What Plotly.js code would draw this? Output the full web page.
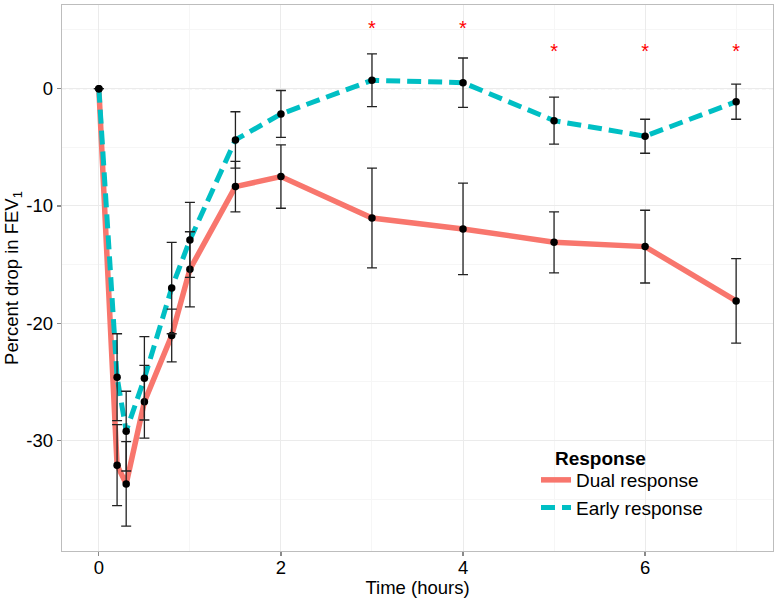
<!DOCTYPE html>
<html>
<head>
<meta charset="utf-8">
<script src="https://cdn.plot.ly/plotly-3.0.1.min.js"></script>
<style>html,body{margin:0;padding:0;background:#fff;}#chart{width:778px;height:600px;}</style>
</head>
<body>
<div id="chart"></div>
<script>
// Data
var times = [0, 0.2, 0.3, 0.5, 0.8, 1, 1.5, 2, 3, 4, 5, 6, 7];
var dualMean = [0, -32.1, -33.7, -26.7, -21.05, -15.4, -8.35, -7.5, -11.03, -11.96, -13.1, -13.47, -18.1];
var dualErr  = [0, 3.45, 3.6, 3.1, 2.25, 3.2, 2.15, 2.7, 4.25, 3.9, 2.6, 3.1, 3.6];
var earlyMean = [0, -24.6, -29.2, -24.7, -17.0, -12.9, -4.37, -2.16, 0.71, 0.51, -2.73, -4.06, -1.11];
var earlyErr  = [0, 3.7, 3.4, 3.55, 3.9, 3.2, 2.4, 2.0, 2.25, 2.1, 2.0, 1.45, 1.5];
var starTimes = [3, 4, 5, 6, 7];
var starY = [5, 5, 3, 3, 3];
var seriesNames = ['Dual response', 'Early response'];
var legendTitle = 'Response';
var xTicks = [0, 2, 4, 6];
var yTicks = [0, -10, -20, -30];

var FONT = 'Liberation Sans, Arial, Helvetica, sans-serif';
var DUAL = '#F8766D', EARLY = '#00BFC4';

var traces = [
  {x: times, y: dualMean, mode: 'lines', name: seriesNames[0],
   line: {color: DUAL, width: 5.5}, hoverinfo: 'skip'},
  {x: times, y: earlyMean, mode: 'lines', name: seriesNames[1],
   line: {color: EARLY, width: 5, dash: '14px,7px'}, hoverinfo: 'skip'},
  {x: times, y: dualMean, mode: 'markers', showlegend: false,
   marker: {color: '#000', size: 7.5},
   error_y: {type: 'data', array: dualErr, visible: true, color: '#222', thickness: 1.3, width: 5}},
  {x: times, y: earlyMean, mode: 'markers', showlegend: false,
   marker: {color: '#000', size: 7.5},
   error_y: {type: 'data', array: earlyErr, visible: true, color: '#222', thickness: 1.3, width: 5}},
  {x: starTimes, y: starY, mode: 'text', text: starTimes.map(function(){return '*';}),
   textposition: 'middle center', textfont: {color: '#FF0000', size: 20, family: FONT},
   showlegend: false, hoverinfo: 'skip'}
];

var layout = {
  width: 778, height: 600,
  margin: {l: 62, r: 5, t: 5, b: 49},
  paper_bgcolor: '#fff', plot_bgcolor: '#fff',
  font: {family: FONT, color: '#000', size: 18.5},
  showlegend: true,
  xaxis: {
    range: [-0.405, 7.405], tickvals: xTicks, ticktext: xTicks.map(String),
    showgrid: true, gridcolor: '#ebebeb', gridwidth: 1,
    minor: {dtick: 1, tick0: 0, showgrid: true, gridcolor: '#f6f6f6', gridwidth: 1},
    zeroline: false, showline: true, mirror: true, linecolor: '#bdbdbd', linewidth: 1.3,
    ticks: 'outside', ticklen: 4, tickcolor: '#8a8a8a', tickwidth: 1.2,
    ticklabelstandoff: -5,
    tickfont: {size: 18.5, color: '#000', family: FONT},
    title: {text: 'Time (hours)', font: {size: 18.5, color: '#000', family: FONT}, standoff: 3},
    automargin: false
  },
  yaxis: {
    range: [-39.42, 7.13], tickvals: yTicks, ticktext: yTicks.map(String),
    showgrid: true, gridcolor: '#ebebeb', gridwidth: 1,
    minor: {dtick: 5, tick0: 0, showgrid: true, gridcolor: '#f6f6f6', gridwidth: 1},
    zeroline: false, showline: true, mirror: true, linecolor: '#bdbdbd', linewidth: 1.3,
    ticks: 'outside', ticklen: 4, tickcolor: '#8a8a8a', tickwidth: 1.2,
    tickfont: {size: 18.5, color: '#000', family: FONT},
    title: {text: 'Percent drop in FEV<sub>1</sub>', font: {size: 18.5, color: '#000', family: FONT}, standoff: 2},
    automargin: false
  },
  shapes: [
    {type: 'line', xref: 'paper', yref: 'y', x0: 0, x1: 1, y0: 0, y1: 0,
     line: {color: '#bbbbbb', width: 1, dash: '4px,3px'}, layer: 'below'}
  ],
  annotations: [
    {xref: 'paper', yref: 'paper', x: (553 - 62) / 711, y: 1 - (446 - 5) / 546,
     xanchor: 'left', yanchor: 'top', showarrow: false,
     text: '<b>' + legendTitle + '</b>', font: {size: 19, color: '#000', family: FONT}}
  ],
  legend: {
    x: (536 - 62) / 711, y: 1 - (461 - 5) / 546, xanchor: 'left', yanchor: 'top',
    bgcolor: 'rgba(0,0,0,0)', borderwidth: 0,
    font: {size: 19, color: '#000', family: FONT},
    tracegroupgap: 0, itemwidth: 30
  }
};

Plotly.newPlot('chart', traces, layout, {staticPlot: true, displayModeBar: false});
</script>
</body>
</html>
